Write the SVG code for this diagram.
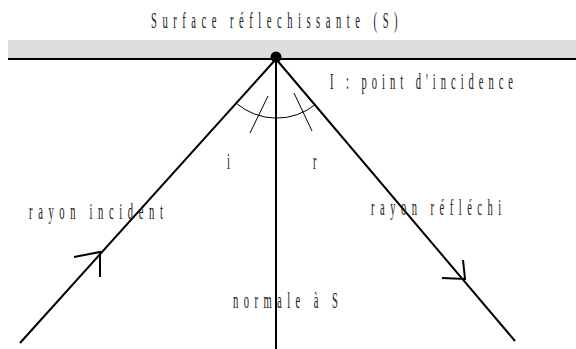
<svg xmlns="http://www.w3.org/2000/svg" width="576" height="349" viewBox="0 0 576 349">
<style>
.t{font-family:"Liberation Serif","Times New Roman",serif;font-size:23px;fill:#222}
.ln{stroke:#000;stroke-width:2;fill:none}
.thin{stroke:#000;stroke-width:1;fill:none}
</style>
<rect x="0" y="0" width="576" height="349" fill="#fff"/>
<g id="surface">
<rect x="8" y="40" width="568" height="19" fill="#dddddd"/>
<line class="ln" x1="8" y1="59" x2="576" y2="59"/>
<text class="t" transform="translate(151,28) scale(0.46,1)" textLength="536" lengthAdjust="spacing">Surface réflechissante (S)</text>
</g>
<g id="connectors">
<line class="ln" x1="276" y1="59" x2="20" y2="343"/>
<line class="ln" x1="276" y1="59" x2="515" y2="341"/>
<line class="ln" x1="276" y1="59" x2="276" y2="349"/>
<polyline class="ln" points="74,257 100,252 100,277"/>
<polyline class="ln" points="442,278 465,279 463,260"/>
<path class="thin" d="M236,103 A62,62 0 0 0 316,104"/>
<line class="thin" x1="268" y1="96" x2="250" y2="133"/>
<line class="thin" x1="294" y1="93" x2="312" y2="131"/>
</g>
<g id="point-I">
<circle cx="276" cy="57" r="5.5" fill="#000"/>
<text class="t" transform="translate(330,89) scale(0.46,1)" textLength="398" lengthAdjust="spacing">I : point d'incidence</text>
</g>
<g id="rayon-incident">
<text class="t" transform="translate(29,219) scale(0.46,1)" textLength="291" lengthAdjust="spacing">rayon incident</text>
</g>
<g id="rayon-reflechi">
<text class="t" transform="translate(371,215) scale(0.46,1)" textLength="283" lengthAdjust="spacing">rayon réfléchi</text>
</g>
<g id="normale">
<text class="t" transform="translate(233,308) scale(0.46,1)" textLength="228" lengthAdjust="spacing">normale à S</text>
</g>
<g id="angles">
<text class="t" transform="translate(227,169) scale(0.46,1)">i</text>
<text class="t" transform="translate(313,169) scale(0.46,1)">r</text>
</g>
</svg>
